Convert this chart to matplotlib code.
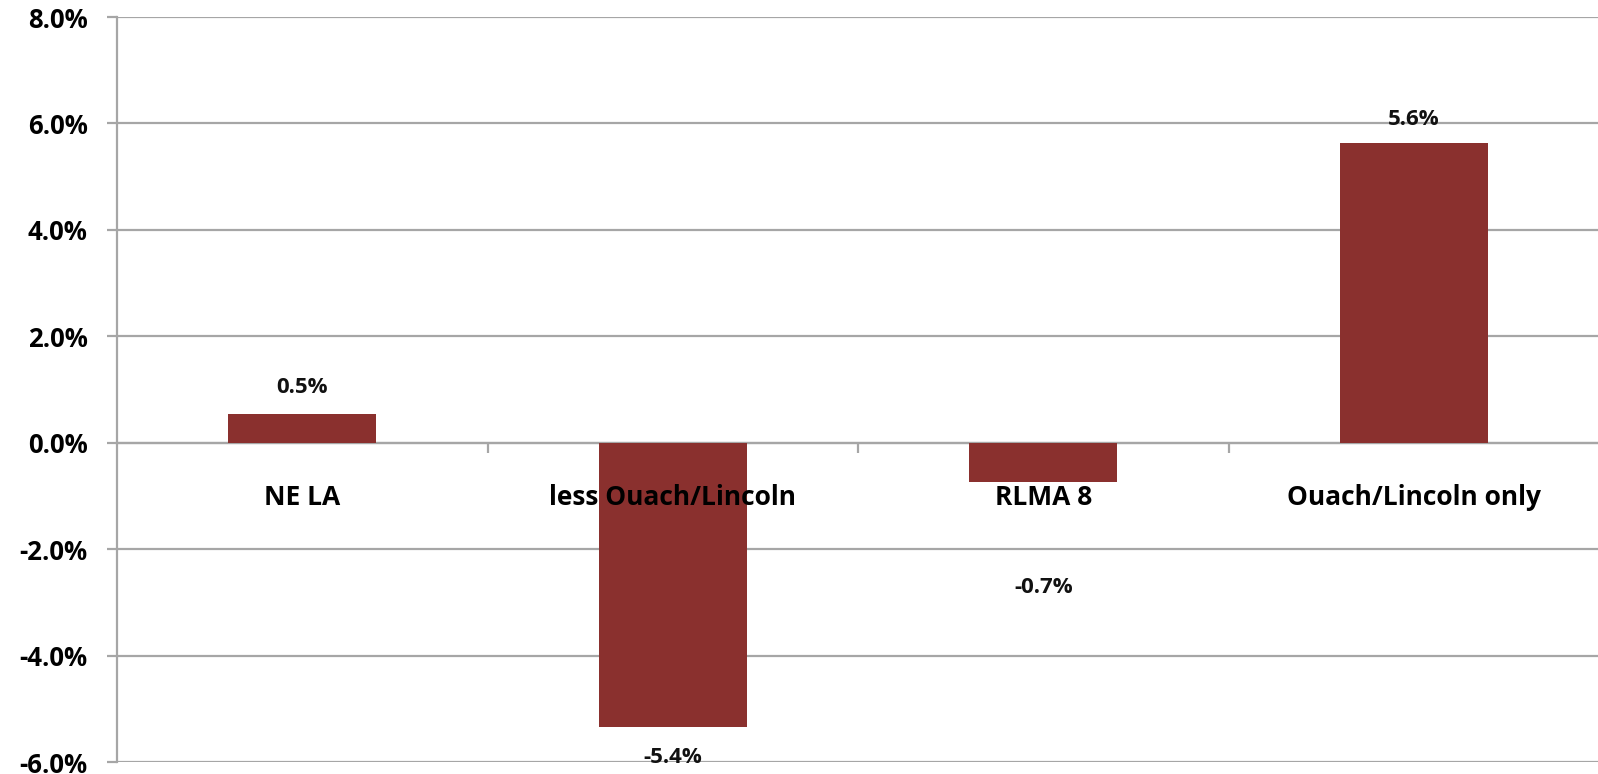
import matplotlib
matplotlib.use("Agg")
import matplotlib.pyplot as plt
import numpy as np
from matplotlib.ticker import FuncFormatter, FixedLocator

# -- Data ---------------------------------------------------------------------
categories = ["NE LA", "less Ouach/Lincoln", "RLMA 8", "Ouach/Lincoln only"]
values = [0.54, -5.35, -0.73, 5.63]      # percent change (bar heights)
value_labels = ["0.5%", "-5.4%", "-0.7%", "5.6%"]

# -- Style --------------------------------------------------------------------
BAR = "#8A302E"
GRID = "#A6A6A6"
plt.rcParams["font.family"] = ["Open Sans", "DejaVu Sans"]
plt.rcParams["font.weight"] = "bold"

label_offset_pts = [19, -22, -76, 17]   # data label offsets (Excel placement)

fig = plt.figure(figsize=(15.98, 7.74), dpi=100)
ax = fig.add_axes([0.0732, 0.0155, 0.9275, 0.9625])

x = np.arange(len(categories))
ax.bar(x, values, width=0.4, color=BAR, zorder=1)

for xi, v, lab, off in zip(x, values, value_labels, label_offset_pts):
    ax.annotate(lab, (xi, v), xytext=(0, off), textcoords="offset points",
                ha="center", va="center", fontsize=16, fontweight="bold",
                color="#111111")

ax.set_xlim(-0.5, len(categories) - 0.5)
ax.set_ylim(-6, 8)
ax.set_yticks(np.arange(-6, 8.1, 2))
ax.yaxis.set_major_formatter(FuncFormatter(lambda v, _: f"{v:.1f}%"))
ax.grid(axis="y", color=GRID, linewidth=1.6)
ax.set_axisbelow(True)
ax.xaxis.set_zorder(3)   # category labels sit over the bars

# category labels centred, tick marks at boundaries
ax.set_xticks(x)
ax.set_xticklabels(categories)
ax.xaxis.set_minor_locator(FixedLocator(x[1:] - 0.5))
ax.tick_params(axis="x", which="major", length=0, pad=30, labelsize=19)
ax.tick_params(axis="x", which="minor", length=7, width=1.6, color=GRID,
               direction="out")
ax.tick_params(axis="y", length=7, width=1.6, color=GRID, pad=14,
               labelsize=18.5)
for t in ax.get_xticklabels() + ax.get_yticklabels():
    t.set_fontweight("bold")

for s in ["top", "right"]:
    ax.spines[s].set_visible(False)
ax.spines["left"].set_color(GRID)
ax.spines["left"].set_linewidth(1.6)
ax.spines["left"].set_zorder(0.5)

# the x axis line sits at zero, behind the bars
ax.spines["bottom"].set_position(("data", 0))
ax.spines["bottom"].set_color(GRID)
ax.spines["bottom"].set_linewidth(1.6)
ax.spines["bottom"].set_zorder(0.5)

fig.savefig("out.png", dpi=100)
